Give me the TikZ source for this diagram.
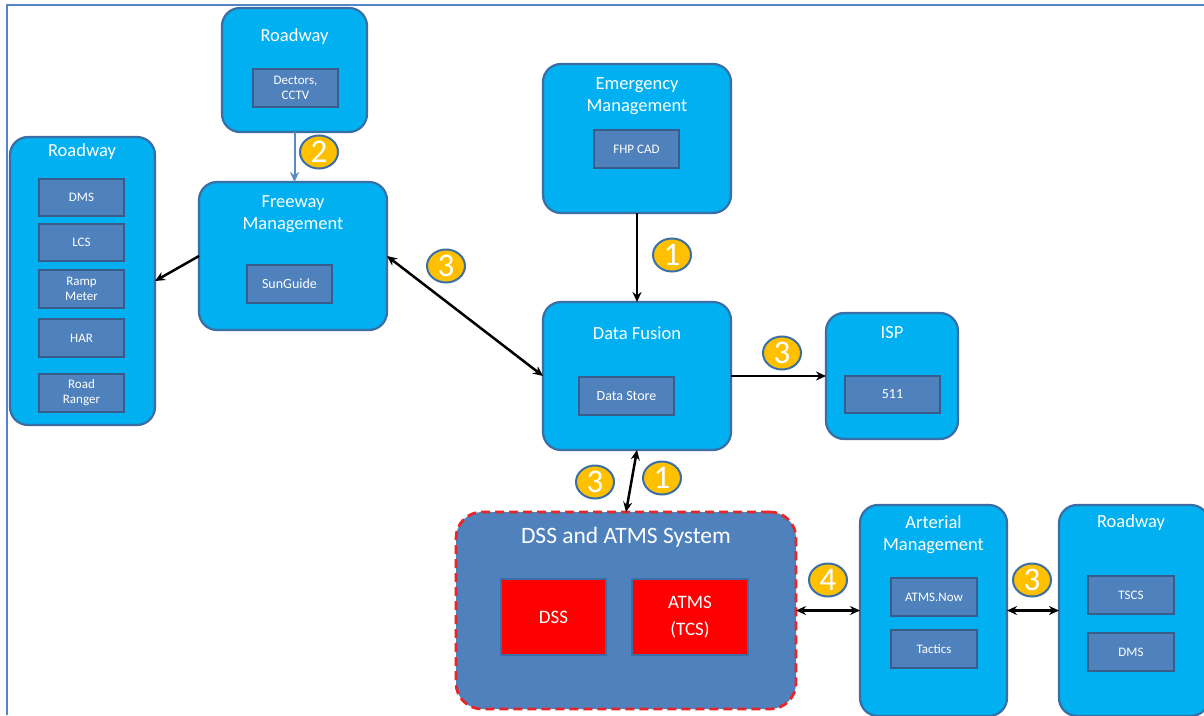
\documentclass[tikz,border=0pt]{standalone}
\usepackage{fontspec}
\setmainfont{Carlito}
\usetikzlibrary{shapes.geometric,arrows.meta}

\definecolor{cyanfill}{HTML}{00B0F0}
\definecolor{edgeblue}{HTML}{3A6EA5}
\definecolor{innerfill}{HTML}{4F81BD}
\definecolor{inneredge}{HTML}{385D8A}
\definecolor{sysfill}{HTML}{4F81BD}
\definecolor{redfill}{HTML}{FF0000}
\definecolor{reddash}{HTML}{E8262A}
\definecolor{gold}{HTML}{FFC000}
\definecolor{framec}{HTML}{5585C8}
\definecolor{lightlink}{HTML}{5A8AC6}

\tikzset{
  box/.style={draw=edgeblue, fill=cyanfill, line width=2.2pt, rounded corners=18pt,
    inner sep=0pt, outer sep=0pt, anchor=north west},
  inbox/.style={draw=inneredge, fill=innerfill, line width=1.8pt, inner sep=0pt,
    outer sep=0pt, anchor=north west, text=white, align=center,
    font=\fontsize{13}{15}\selectfont},
  inboxbig/.style={inbox, font=\fontsize{14}{16}\selectfont},
  title/.style={text=white, align=center, inner sep=0pt, font=\fontsize{18.5}{22}\selectfont},
  sysbox/.style={draw=reddash, fill=sysfill, line width=2.8pt, dash pattern=on 9pt off 5pt,
    rounded corners=26pt, inner sep=0pt, outer sep=0pt, anchor=north west},
  redbox/.style={draw=edgeblue, fill=redfill, line width=1.8pt, inner sep=0pt, outer sep=0pt,
    anchor=north west, text=white, align=center, font=\fontsize{19}{27}\selectfont},
  badge/.style={ellipse, draw=edgeblue, fill=gold, line width=2pt, minimum width=38pt,
    minimum height=33pt, inner sep=0pt, text=white, font=\fontsize{33}{33}\selectfont},
  link/.style={draw=black, line width=2.5pt},
  tip/.style={-{Stealth[length=10pt,width=9pt]}},
  twotip/.style={{Stealth[length=10pt,width=9pt]}-{Stealth[length=10pt,width=9pt]}},
}

\begin{document}
\begin{tikzpicture}[x=1pt,y=-1pt]
\useasboundingbox (0,0) rectangle (1204,715);
\clip (0,0) rectangle (1204,715);
\fill[white] (0,0) rectangle (1204,715);

% outer frame (top and left edges)
\draw[framec, line width=2pt] (7,715) -- (7,5) -- (1204,5);

% ---- Roadway (detectors) ----
\node[box, minimum width=145pt, minimum height=124pt] (rt) at (222,8) {};
\node[title] (rt-t) at (294.5,37) {Roadway};
\node[inbox, minimum width=85pt, minimum height=38pt] (rt-a) at (253,69) {Dectors,\\CCTV};

% ---- Roadway (field devices) ----
\node[box, minimum width=145pt, minimum height=288pt] (rl) at (10,137) {};
\node[title] (rl-t) at (82,152) {Roadway};
\node[inbox, minimum width=85pt, minimum height=37pt] (rl-a) at (39,179) {DMS};
\node[inbox, minimum width=85pt, minimum height=37pt] (rl-b) at (39,224) {LCS};
\node[inbox, minimum width=85pt, minimum height=38pt] (rl-c) at (39,270) {Ramp\\Meter};
\node[inbox, minimum width=85pt, minimum height=38pt] (rl-d) at (39,319) {HAR};
\node[inbox, minimum width=85pt, minimum height=38pt] (rl-e) at (39,374) {Road\\Ranger};

% ---- Freeway Management ----
\node[box, minimum width=188pt, minimum height=148pt] (fm) at (199,182) {};
\node[title] (fm-t) at (293,214) {Freeway\\Management};
\node[inboxbig, minimum width=85pt, minimum height=38pt] (fm-a) at (247,265) {SunGuide};

% ---- Emergency Management ----
\node[box, minimum width=188pt, minimum height=149pt] (em) at (543,64) {};
\node[title] (em-t) at (637,96) {Emergency\\Management};
\node[inbox, minimum width=85pt, minimum height=38pt] (em-a) at (594,130) {FHP CAD};

% ---- Data Fusion ----
\node[box, minimum width=188pt, minimum height=148pt] (df) at (543,302) {};
\node[title] (df-t) at (637,333) {Data Fusion};
\node[inboxbig, minimum width=95pt, minimum height=38pt] (df-a) at (579,377) {Data Store};

% ---- ISP ----
\node[box, minimum width=132pt, minimum height=126pt] (isp) at (826,313) {};
\node[title] (isp-t) at (892,333) {ISP};
\node[inboxbig, minimum width=95pt, minimum height=37pt] (isp-a) at (845,376) {511};

% ---- DSS and ATMS System ----
\node[sysbox, minimum width=340pt, minimum height=197pt] (dss) at (456,512) {};
\node[title, font=\fontsize{23.5}{26}\selectfont] (dss-t) at (626,537) {DSS and ATMS System};
\node[redbox, minimum width=105pt, minimum height=76pt] (dss-a) at (501,579) {DSS};
\node[redbox, minimum width=116pt, minimum height=76pt] (dss-b) at (632,579) {ATMS\\(TCS)};

% ---- Arterial Management ----
\node[box, minimum width=147pt, minimum height=211pt] (am) at (860,505) {};
\node[title] (am-t) at (933.5,535) {Arterial\\Management};
\node[inbox, minimum width=86pt, minimum height=38pt] (am-a) at (891,578) {ATMS.Now};
\node[inbox, minimum width=86pt, minimum height=38pt] (am-b) at (891,630) {Tactics};

% ---- Roadway (signals) ----
\node[box, minimum width=150pt, minimum height=211pt] (rr) at (1059,505) {};
\node[title] (rr-t) at (1131,523) {Roadway};
\node[inbox, minimum width=86pt, minimum height=38pt] (rr-a) at (1088,576) {TSCS};
\node[inbox, minimum width=86pt, minimum height=38pt] (rr-b) at (1088,633) {DMS};

% ---- connectors ----
\draw[lightlink, line width=2pt, -{Stealth[length=10pt,width=9pt]}] (rt.south) -- (rt.south |- fm.north);
\draw[link, tip] (fm.west) -- (rl.east);
\draw[link, twotip] (fm.east) -- (df.west);
\draw[link, tip] (em.south) -- (df.north);
\draw[link, tip] (df.east) -- (isp.west);
\draw[link, twotip] (df.south) -- (dss.north);
\draw[link, twotip] (dss.east) -- (am.west);
\draw[link, twotip] (am.east) -- (rr.west);

% ---- numbered badges ----
\node[badge] (n2) at (319,152) {2};
\node[badge] (n3a) at (446,266) {3};
\node[badge] (n1a) at (672,255) {1};
\node[badge] (n3b) at (782,353) {3};
\node[badge] (n3c) at (595,482) {3};
\node[badge] (n1b) at (662,478) {1};
\node[badge] (n4) at (828,580) {4};
\node[badge] (n3d) at (1032,580) {3};
\end{tikzpicture}
\end{document}
